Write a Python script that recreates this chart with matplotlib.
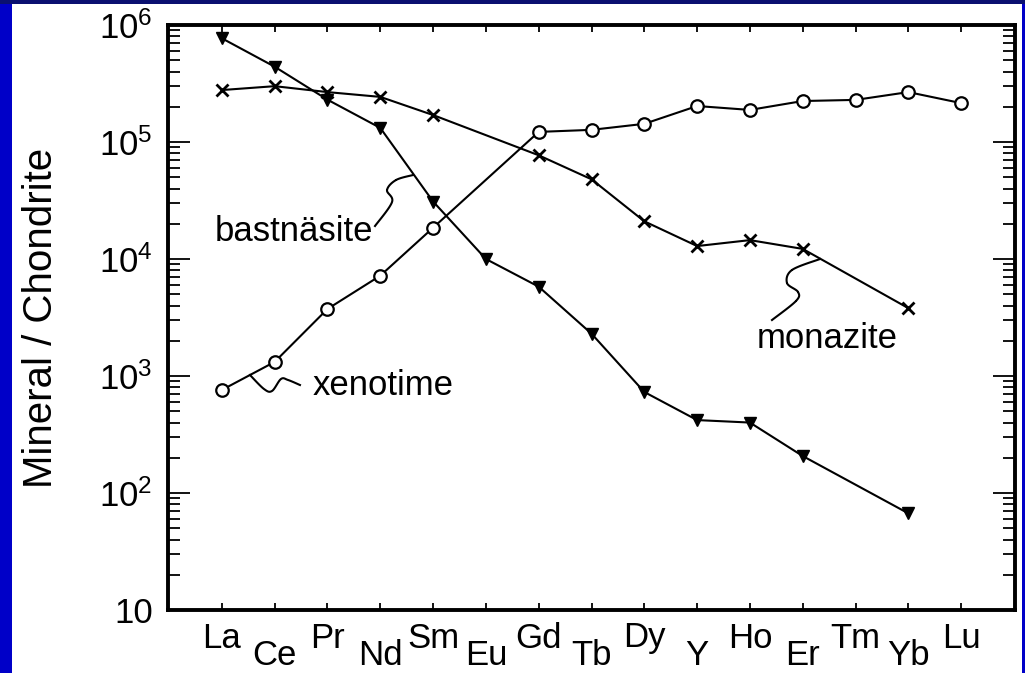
import numpy as np
import matplotlib
matplotlib.use("Agg")
import matplotlib.pyplot as plt
from matplotlib.patches import Rectangle
from matplotlib.ticker import FixedLocator, LogLocator, NullFormatter

plt.rcParams["font.family"] = "Liberation Sans"
plt.rcParams["mathtext.fontset"] = "custom"
plt.rcParams["mathtext.rm"] = "Liberation Sans"
plt.rcParams["mathtext.it"] = "Liberation Sans:italic"

# ─── data ────────────────────────────────────────────────────────────────────
ELEMENTS = ["La", "Ce", "Pr", "Nd", "Sm", "Eu", "Gd", "Tb",
            "Dy", "Y", "Ho", "Er", "Tm", "Yb", "Lu"]
nan = np.nan
bastnasite = [7.7e5, 4.4e5, 2.3e5, 1.32e5, 3.1e4, 1.0e4, 5.8e3, 2.3e3,
              730, 420, 400, 207, nan, 67, nan]
monazite = [2.78e5, 3.0e5, 2.67e5, 2.43e5, 1.7e5, nan, 7.7e4, 4.8e4,
            2.1e4, 1.29e4, 1.45e4, 1.22e4, nan, 3.8e3, nan]
xenotime = [760, 1320, 3740, 7200, 1.85e4, nan, 1.22e5, 1.27e5,
            1.43e5, 2.03e5, 1.88e5, 2.24e5, 2.29e5, 2.67e5, 2.15e5]
Y_TICKS = [10, 1e2, 1e3, 1e4, 1e5, 1e6]
Y_TICK_LABELS = ["10", "$10^{2}$", "$10^{3}$", "$10^{4}$", "$10^{5}$", "$10^{6}$"]


def smooth(pts, n=20):
    """Catmull-Rom through a few points, for the squiggly label leaders."""
    pts = np.asarray(pts, dtype=float)
    P = np.vstack([pts[0], pts, pts[-1]])
    t = np.linspace(0, 1, n)[:, None]
    out = []
    for i in range(1, len(P) - 2):
        p0, p1, p2, p3 = P[i - 1], P[i], P[i + 1], P[i + 2]
        out.append(0.5 * (2 * p1 + (-p0 + p2) * t
                          + (2 * p0 - 5 * p1 + 4 * p2 - p3) * t ** 2
                          + (-p0 + 3 * p1 - 3 * p2 + p3) * t ** 3))
    return np.vstack(out)


fig = plt.figure(figsize=(10.25, 6.73), dpi=100, facecolor="#0000c8")
fig.patches.append(Rectangle((12 / 1025, 0), 1010 / 1025, 669 / 673,
                             transform=fig.transFigure, facecolor="white",
                             edgecolor="none", zorder=-2))
fig.patches.append(Rectangle((0, 669 / 673), 1, 4 / 673,
                             transform=fig.transFigure, facecolor="#0a1070",
                             edgecolor="none", zorder=-2))

ax = fig.add_axes([168 / 1025, 63 / 673, 847 / 1025, 585 / 673])
ax.set_facecolor("white")

x = np.arange(len(ELEMENTS))
for vals, marker, kw in [
    (bastnasite, "v", dict(ms=9, mfc="black", mec="black")),
    (monazite, "x", dict(ms=9, mew=2.0, mec="black")),
    (xenotime, "o", dict(ms=9, mfc="white", mec="black", mew=1.6)),
]:
    v = np.asarray(vals, dtype=float)
    ok = ~np.isnan(v)
    ax.plot(x[ok], v[ok], color="black", lw=1.5, marker=marker, zorder=3, **kw)

ax.set_yscale("log")
ax.set_ylim(10, 1e6)
ax.set_xlim(-1.02, 15.02)

ax.yaxis.set_major_locator(FixedLocator(Y_TICKS))
ax.set_yticklabels(Y_TICK_LABELS)
ax.yaxis.set_minor_locator(LogLocator(base=10, subs=np.arange(2, 10)))
ax.yaxis.set_minor_formatter(NullFormatter())
ax.tick_params(axis="y", which="major", direction="in", length=16, width=1.3,
               left=True, right=True, labelsize=25, pad=11)
ax.tick_params(axis="y", which="minor", direction="in", length=8.5, width=1.3,
               left=True, right=True)

ax.set_xticks(x)
ax.set_xticklabels([])
ax.tick_params(axis="x", which="major", direction="in", length=5, width=1.3,
               top=True, bottom=True)
ax.xaxis.set_minor_locator(FixedLocator([]))

for s in ax.spines.values():
    s.set_linewidth(2.8)

# staggered element labels
for i, name in enumerate(ELEMENTS):
    off = -27 if i % 2 == 0 else -39.5
    ax.annotate(name, xy=(i, 0), xycoords=ax.get_xaxis_transform(),
                xytext=(0, off), textcoords="offset points",
                ha="center", va="baseline", fontsize=25)

fig.text(41 / 1025, (673 - 318) / 673, "Mineral / Chondrite", rotation=90,
         ha="center", va="center", fontsize=29)

# labels with their squiggly leaders (axes fractions)
leaders = {
    "bastnäsite": ((0.0555, 0.6308),
                   [(0.2444, 0.6564), (0.2645, 0.6974), (0.2586, 0.7179),
                    (0.2692, 0.7350), (0.2893, 0.7436)]),
    "xenotime": ((0.1712, 0.3675),
                 [(0.0968, 0.4017), (0.1133, 0.3778), (0.1228, 0.3744),
                  (0.1334, 0.3949), (0.1417, 0.3932), (0.1558, 0.3846)]),
    "monazite": ((0.6954, 0.4479),
                 [(0.7698, 0.6000), (0.7367, 0.5812), (0.7308, 0.5590),
                  (0.7438, 0.5436), (0.7414, 0.5282), (0.7131, 0.4957)]),
}
for label, (pos, pts) in leaders.items():
    ax.text(pos[0], pos[1], label, transform=ax.transAxes, ha="left",
            va="baseline", fontsize=25)
    c = smooth(pts)
    ax.plot(c[:, 0], c[:, 1], color="black", lw=1.5, transform=ax.transAxes,
            zorder=2)

fig.savefig("out.png", dpi=100, facecolor=fig.get_facecolor())
